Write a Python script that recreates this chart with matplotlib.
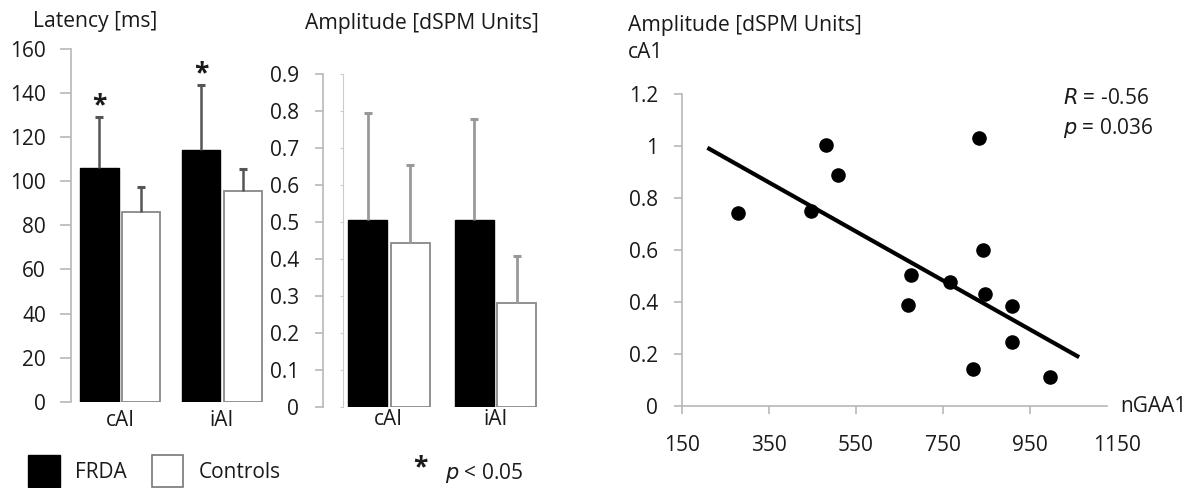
import numpy as np
import matplotlib.pyplot as plt
from matplotlib.patches import Rectangle

plt.rcParams['font.family'] = ['Open Sans', 'DejaVu Sans']

# Bar chart data: FRDA patients vs controls in the two auditory regions
regions = ['cAI', 'iAI']
latency_frda = [105.9, 114.2]
latency_frda_sd = [23.4, 29.5]
latency_ctrl = [86.2, 95.6]
latency_ctrl_sd = [11.3, 9.8]

amp_frda = [0.505, 0.505]
amp_frda_sd = [0.29, 0.273]
amp_ctrl = [0.442, 0.282]
amp_ctrl_sd = [0.212, 0.125]

# Scatter: amplitude in cA1 against GAA1 repeat length
ngaa1 = [280, 448, 481, 510, 676, 671, 766, 832, 843, 847, 908, 908, 820, 996]
ca1_amp = [0.741, 0.751, 1.005, 0.889, 0.504, 0.388, 0.478, 1.033, 0.600,
           0.430, 0.384, 0.247, 0.140, 0.112]
trend_x = [209, 1063]
trend_y = [0.994, 0.187]
r_value = -0.56
p_value = 0.036

W, H = 1196, 488
fig = plt.figure(figsize=(W / 100, H / 100), dpi=100)


def box(left, top, right, bottom):
    return [left / W, 1 - bottom / H, (right - left) / W, (bottom - top) / H]


axis_grey = '#b8b8b8'
ink = '#1a1a1a'
fs = 15
title_fs = 15.2


def style_bar_axes(ax, pad_y, pad_x, ticklen):
    for s in ['top', 'right', 'bottom']:
        ax.spines[s].set_visible(False)
    ax.spines['left'].set_color(axis_grey)
    ax.spines['left'].set_linewidth(1.2)
    ax.tick_params(axis='y', colors=axis_grey, labelcolor=ink,
                   length=ticklen, width=1.2, pad=pad_y, labelsize=fs)
    ax.tick_params(axis='x', length=0, pad=pad_x, labelsize=fs,
                   labelcolor=ink)


def draw_bars(ax, frda, frda_sd, ctrl, ctrl_sd, off, width, err_color, err_lw):
    x = np.arange(len(regions))
    ax.bar(x - off, frda, width, color='black', edgecolor='black', lw=1)
    ax.bar(x + off, ctrl, width, color='white', edgecolor='#888888', lw=1.3)
    for xs, ys, es in [(x - off, frda, frda_sd), (x + off, ctrl, ctrl_sd)]:
        _, caps, _ = ax.errorbar(xs, ys, yerr=[np.zeros(len(es)), es], fmt='none',
                                 ecolor=err_color, elinewidth=err_lw, capsize=3,
                                 capthick=2.2)
        # only the upper cap is shown
        caps[0].set_visible(False)
        caps[1].set_color('black')
    ax.set_xticks(x)
    ax.set_xticklabels(regions)
    return x


# Latency panel
ax1 = fig.add_axes(box(71, 49, 265, 401.7))
x1 = draw_bars(ax1, latency_frda, latency_frda_sd, latency_ctrl, latency_ctrl_sd,
               0.205, 0.38, '#555555', 1.8)
ax1.set_ylim(0, 160)
ax1.set_xlim(-0.485, 1.423)
ax1.set_yticks(np.arange(0, 161, 20))
style_bar_axes(ax1, 10, 6, 8)
for xi, v, e in zip(x1 - 0.205, latency_frda, latency_frda_sd):
    ax1.annotate('*', xy=(xi, v + e), xytext=(0, -2), textcoords='offset points',
                 ha='center', va='bottom', fontsize=19, fontweight='bold',
                 color=ink)
fig.text(33 / W, 1 - 22 / H, 'Latency [ms]', fontsize=title_fs, va='center',
         color=ink)

# Amplitude panel
ax2 = fig.add_axes(box(322.7, 74.3, 540, 406.7))
draw_bars(ax2, amp_frda, amp_frda_sd, amp_ctrl, amp_ctrl_sd,
          0.2, 0.365, '#999999', 2.0)
ax2.set_ylim(0, 0.9)
ax2.set_xlim(-0.62, 1.417)
ax2.set_yticks(np.arange(0, 0.91, 0.1))
ax2.set_yticklabels(['0'] + ['%.1f' % v for v in np.arange(0.1, 0.91, 0.1)])
style_bar_axes(ax2, 11, 2, 6)
fig.text(305 / W, 1 - 23 / H, 'Amplitude [dSPM Units]', fontsize=title_fs,
         va='center', color=ink)

# second faint axis line inside the amplitude panel
ax2b = fig.add_axes(box(343.3, 74.3, 344.3, 406.7))
ax2b.set_ylim(0, 0.9)
ax2b.set_yticks(np.arange(0, 0.91, 0.1))
ax2b.set_xticks([])
ax2b.patch.set_visible(False)
for s in ['top', 'right', 'bottom']:
    ax2b.spines[s].set_visible(False)
ax2b.spines['left'].set_color('#cccccc')
ax2b.tick_params(axis='y', colors='#cccccc', length=2, labelleft=False)

# Correlation panel
ax3 = fig.add_axes(box(681.7, 94.3, 1117, 405.7))
ax3.scatter(ngaa1, ca1_amp, s=110, color='black', zorder=3, lw=0)
ax3.plot(trend_x, trend_y, color='black', lw=3, solid_capstyle='butt')
ax3.set_xlim(150, 1150)
ax3.set_ylim(0, 1.2)
ax3.set_xticks(np.arange(150, 1151, 200))
ax3.set_yticks(np.arange(0, 1.21, 0.2))
ax3.set_yticklabels(['0', '0.2', '0.4', '0.6', '0.8', '1', '1.2'])
for s in ['top', 'right']:
    ax3.spines[s].set_visible(False)
for s in ['left', 'bottom']:
    ax3.spines[s].set_color(axis_grey)
    ax3.spines[s].set_linewidth(1.2)
ax3.spines['bottom'].set_bounds(150, 1128)
ax3.tick_params(axis='y', colors=axis_grey, labelcolor=ink, length=6,
                width=1.2, pad=11, labelsize=fs)
ax3.tick_params(axis='x', colors=axis_grey, labelcolor=ink, length=6,
                width=1.2, pad=15, labelsize=fs)
ax3.xaxis.get_major_ticks()[-1].tick1line.set_visible(False)

fig.text(628 / W, 1 - 25 / H, 'Amplitude [dSPM Units]', fontsize=title_fs,
         va='center', color=ink)
fig.text(628 / W, 1 - 53 / H, 'cA1', fontsize=title_fs, va='center', color=ink)
fig.text(1120 / W, 1 - 406 / H, 'nGAA1', fontsize=15, va='center', color=ink)
fig.text(1063 / W, 1 - 99 / H, '$R$ = %.2f' % r_value, fontsize=15,
         va='center', color=ink)
fig.text(1063 / W, 1 - 128 / H, '$p$ = %.3f' % p_value, fontsize=15,
         va='center', color=ink)

# Legend and significance note
fig.add_artist(Rectangle((28.3 / W, 1 - 486.7 / H), 31.7 / W, 31.7 / H,
                         transform=fig.transFigure, facecolor='black',
                         edgecolor='black'))
fig.add_artist(Rectangle((151.7 / W, 1 - 486.7 / H), 31 / W, 31.7 / H,
                         transform=fig.transFigure, facecolor='white',
                         edgecolor='#777777', lw=1.2))
fig.text(75 / W, 1 - 473 / H, 'FRDA', fontsize=15, va='center', color=ink)
fig.text(199 / W, 1 - 473 / H, 'Controls', fontsize=15, va='center', color=ink)
fig.text(420 / W, 1 - 468 / H, '*', fontsize=19, fontweight='bold', va='center',
         ha='center', color=ink)
fig.text(445 / W, 1 - 473 / H, '$p$ < 0.05', fontsize=15, va='center', color=ink)

fig.savefig('out.png', dpi=100)
